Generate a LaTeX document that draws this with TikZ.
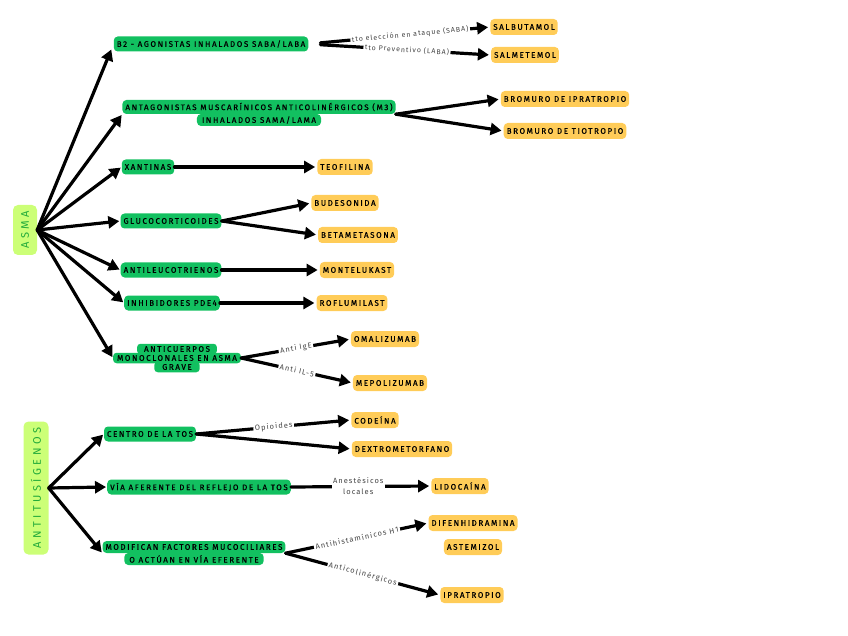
\documentclass[tikz,border=0pt]{standalone}
\usepackage{fontspec}
\usetikzlibrary{arrows.meta}
\newfontfamily\nfont[LetterSpace=20,FakeBold=0.6]{Fira Sans}
\newfontfamily\lfont[LetterSpace=14]{Fira Sans}
\newfontfamily\rfont[LetterSpace=32]{Fira Sans}
\definecolor{gnc}{HTML}{12C060}
\definecolor{ync}{HTML}{FFCC58}
\definecolor{limec}{HTML}{CCFF77}
\definecolor{rootg}{HTML}{22AA3A}
\definecolor{labg}{HTML}{444444}
\tikzset{
  gnode/.style={fill=gnc, rounded corners=4pt, inner xsep=3pt, inner ysep=2pt, minimum height=15pt, align=center, font=\nfont\fontsize{8}{9}\selectfont},
  growbox/.style={gnode, minimum height=12pt, inner ysep=0.5pt},
  gsmallbox/.style={gnode, minimum height=10.5pt, inner ysep=0pt, rounded corners=3.5pt},
  ynode/.style={fill=ync, rounded corners=4pt, inner xsep=3pt, inner ysep=2pt, minimum height=16pt, align=center, font=\nfont\fontsize{8}{9}\selectfont},
  rootbox/.style={fill=limec, text=rootg, rounded corners=5pt, rotate=90, inner sep=0pt, font=\rfont\fontsize{11}{13}\selectfont},
  conn/.style={line width=3.2pt, line cap=round, -{Triangle[length=11pt,width=12pt]}, shorten >=2pt},
  lab/.style={fill=white, inner sep=1.5pt, text=labg, font=\lfont\fontsize{7.5}{8}\selectfont},
  labs/.style={lab, font=\lfont\fontsize{7}{8}\selectfont},
}
\begin{document}
\begin{tikzpicture}[x=1pt,y=-1pt]
\useasboundingbox (0,0) rectangle (848,636);
% roots
\node[rootbox, minimum width=50pt, minimum height=24pt] (asma) at (25,230) {ASMA};
\node[rootbox, minimum width=133pt, minimum height=25pt] (anti) at (36,488) {ANTITUSÍGENOS};
% green nodes
\node[gnode] (b2) at (211,44) {B2 - AGONISTAS INHALADOS SABA/LABA};
\node[growbox, inner xsep=5pt] (musc2) at (259,120) {INHALADOS SAMA/LAMA};
\node[growbox, minimum height=14pt] (musc) at (259,107) {ANTAGONISTAS MUSCARÍNICOS ANTICOLINÉRGICOS (M3)};
\node[gnode] (xant) at (148,167) {XANTINAS};
\node[gnode] (gluc) at (171,221) {GLUCOCORTICOIDES};
\node[gnode] (leuc) at (171,270) {ANTILEUCOTRIENOS};
\node[gnode] (pde) at (172,303) {INHIBIDORES PDE4};
\node[gsmallbox, inner xsep=7pt] (mono1) at (177,349) {ANTICUERPOS};
\node[gsmallbox, inner xsep=8pt] (mono3) at (177,367) {GRAVE};
\node[gsmallbox, inner xsep=4pt] (mono) at (177,358) {MONOCLONALES EN ASMA};
\node[growbox, inner xsep=5pt] (modi2) at (194,559) {O ACTÚAN EN VÍA EFERENTE};
\node[growbox] (modi) at (194,547) {MODIFICAN FACTORES MUCOCILIARES};
\node[gnode] (cent) at (150,434) {CENTRO DE LA TOS};
\node[gnode] (via) at (199,487) {VÍA AFERENTE DEL REFLEJO DE LA TOS};
% yellow nodes
\node[ynode] (salb) at (524,27) {SALBUTAMOL};
\node[ynode] (salm) at (525,55) {SALMETEMOL};
\node[ynode] (ipra) at (565,99) {BROMURO DE IPRATROPIO};
\node[ynode] (tiot) at (565,131) {BROMURO DE TIOTROPIO};
\node[ynode] (teof) at (345,167) {TEOFILINA};
\node[ynode] (bude) at (345,203) {BUDESONIDA};
\node[ynode] (beta) at (358,235) {BETAMETASONA};
\node[ynode] (mont) at (357,270) {MONTELUKAST};
\node[ynode] (rofl) at (352,303) {ROFLUMILAST};
\node[ynode] (omal) at (385,339) {OMALIZUMAB};
\node[ynode] (mepo) at (390,383) {MEPOLIZUMAB};
\node[ynode] (code) at (375,420) {CODEÍNA};
\node[ynode] (dext) at (402,449) {DEXTROMETORFANO};
\node[ynode] (lido) at (460,486) {LIDOCAÍNA};
\node[ynode] (dife) at (473,523) {DIFENHIDRAMINA};
\node[ynode] (aste) at (473,547) {ASTEMIZOL};
\node[ynode] (ipr2) at (472,595) {IPRATROPIO};
% first level
\draw[conn, shorten >=6pt] (asma.south) -- (b2.west);
\draw[conn, shorten >=1pt] (asma.south) -- (musc.south west);
\foreach \t in {xant,gluc,leuc,pde,mono}
  \draw[conn, shorten >=1pt] (asma.south) -- (\t.west);
\foreach \t in {cent,via}
  \draw[conn, shorten >=1pt] (anti.south) -- (\t.west);
\draw[conn, shorten >=1pt] (anti.south) -- (modi.south west);
% second level
\draw[conn, shorten <=12pt] (b2.east) -- node[labs, sloped, pos=0.56] {tto elección en ataque (SABA)} (salb.west);
\draw[conn, shorten <=12pt] (b2.east) -- node[labs, sloped, pos=0.54] {tto Preventivo (LABA)} (salm.west);
\draw[conn] (musc.south east) -- (ipra.west);
\draw[conn] (musc.south east) -- (tiot.west);
\draw[conn] (xant.east) -- (teof.west);
\draw[conn] (gluc.east) -- (bude.west);
\draw[conn] (gluc.east) -- (beta.west);
\draw[conn] (leuc.east) -- (mont.west);
\draw[conn] (pde.east) -- (rofl.west);
\draw[conn] (mono.east) -- node[lab, sloped, pos=0.5] {Anti IgE} (omal.west);
\draw[conn] (mono.east) -- node[lab, sloped, pos=0.5] {Anti IL-5} (mepo.west);
\draw[conn] (cent.east) -- node[lab, sloped, pos=0.5] {Opioides} (code.west);
\draw[conn] (cent.east) -- (dext.west);
\draw[conn] (via.east) -- node[lab, align=center, pos=0.48] {Anestésicos\\[3pt]locales} (lido.west);
\draw[conn] (modi.south east) -- node[lab, sloped, pos=0.5] {Antihistamínicos H1} (dife.west);
\draw[conn] (modi.south east) -- node[lab, sloped, pos=0.5] {Anticolinérgicos} (ipr2.west);
\end{tikzpicture}
\end{document}
